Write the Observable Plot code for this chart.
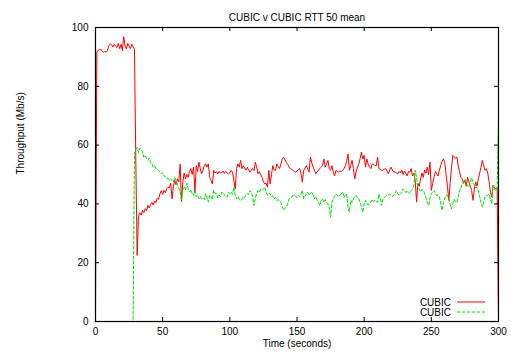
<!DOCTYPE html>
<html><head><meta charset="utf-8">
<script src="https://cdn.jsdelivr.net/npm/d3@7"></script>
<script src="https://cdn.jsdelivr.net/npm/@observablehq/plot@0.6"></script>
<style>
html,body{margin:0;padding:0;background:#fff;}
#chart svg{display:block;}
</style>
</head><body><div id="chart"></div>
<script>
const chartTitle = "CUBIC v CUBIC RTT 50 mean";
const xLabel = "Time (seconds)";
const yLabel = "Throughput (Mb/s)";
const seriesNames = ["CUBIC", "CUBIC"];
const xTicks = [0, 50, 100, 150, 200, 250, 300];
const yTicks = [0, 20, 40, 60, 80, 100];

// throughput samples, one per second, t = 0 .. 300
const cubic1 = [
  0, 91.8, 92.2, 92.5, 92.6, 91.9, 91.6, 91.8, 91.7, 92.3,
  93.9, 94.4, 94.1, 93.4, 94.3, 93.6, 93.2, 94.6, 92.8, 94.3,
  92.1, 96.9, 93.8, 92.7, 94.6, 93.7, 92.8, 94.3, 93.5, 92.6,
  55, 22.5, 35.7, 37, 36.2, 37.8, 37, 38.4, 37.6, 39.5,
  38.6, 39.8, 40.5, 39.6, 41, 40.4, 42, 41.6, 43.5, 44.5,
  43.2, 44.6, 43.8, 45.2, 45.7, 45.5, 47, 41.7, 46, 48,
  46.5, 48.5, 47.5, 53.5, 40.8, 47.5, 50.5, 48.5, 50, 49,
  51, 52, 50, 52.5, 44, 53, 51, 54.2, 52, 50.2,
  51.5, 53, 53.6, 52.5, 53.6, 49, 48, 46.8, 51.4, 50.5,
  51, 50.2, 51, 50.5, 50.6, 51.2, 50.4, 51, 50.5, 50.2,
  50.5, 51.4, 50.8, 48, 45.1, 52, 53.6, 52.5, 54.8, 52,
  53, 52.2, 51.5, 52.5, 51.5, 50.8, 51.5, 52, 51.3, 54.2,
  52.5, 50.2, 51, 50, 49, 47.5, 46.8, 47, 45.7, 51.4,
  46.8, 50, 53, 51.5, 51.4, 53.6, 52.8, 52, 53.5, 55.3,
  55.9, 55, 54.2, 53.5, 52.5, 52, 51.8, 51.4, 51, 50.8,
  51.2, 51.6, 52, 50.2, 47.4, 51.4, 52.2, 53, 51.8, 50.8,
  55.9, 54, 52.5, 51.5, 50.2, 51, 51.4, 52, 52.5, 53,
  55.3, 52.5, 53.5, 54.8, 52, 51.4, 53, 50.8, 49.5, 51.4,
  51, 50.8, 51.2, 51, 51.4, 52, 53, 54.5, 57, 51.4,
  53, 54.8, 52, 48.5, 51, 52.5, 53.5, 55.5, 57.6, 55.3,
  56.5, 52.5, 55.3, 53.5, 52.5, 52, 53.6, 53.5, 53, 53,
  55.9, 52, 51.8, 51.5, 51.4, 51.8, 52, 51.2, 50.2, 51.5,
  52.5, 51.5, 50.8, 51, 50.5, 50.2, 51, 50.5, 51.5, 50,
  51.2, 50.4, 49.5, 51, 50.8, 52, 49.5, 50.5, 48, 40.6,
  47, 46, 48.5, 50.5, 49, 51.5, 50.5, 52.5, 50, 54.2,
  44.6, 47, 49, 51, 50.2, 49.5, 51.5, 53, 54.5, 55.3,
  54, 50, 46, 41.2, 47, 52, 56.5, 56, 55.5, 55.9,
  53, 51, 49, 48.5, 47, 48, 46, 49, 47.5, 46,
  44.6, 41.2, 45, 47.5, 46, 48.5, 50.5, 52.5, 54.8, 53,
  51.4, 52, 50.5, 47.5, 44, 42.3, 46.3, 45.5, 45.1, 45.5,
  0
];
const cubic2 = [
  0, 0, 0, 0, 0, 0, 0, 0, 0, 0,
  0, 0, 0, 0, 0, 0, 0, 0, 0, 0,
  0, 0, 0, 0, 0, 0, 0, 0, 0, 57,
  58.5, 59.2, 57.5, 59, 58.2, 57.8, 55.9, 56.5, 55.5, 54.8,
  55.5, 54, 53.8, 52.5, 53, 52, 51.8, 51.4, 50.8, 50.2,
  50.6, 49.5, 49.2, 48.5, 48.8, 48, 48.4, 48, 47.5, 49,
  48, 46.5, 45.5, 44, 41.2, 44.5, 45.7, 44.8, 47, 45,
  44, 44.8, 43.5, 42.9, 44.6, 42.5, 43, 41.7, 42.5, 41.7,
  42, 41.5, 43.5, 42.2, 40.6, 43, 42.5, 41.5, 44.6, 43.5,
  43.5, 42, 43, 42.5, 44, 43.8, 43, 42.5, 42.2, 44,
  43.5, 44, 43.2, 45.7, 43, 41.7, 42.5, 41.5, 41.2, 41.5,
  42.5, 42.2, 43, 43.5, 43.2, 44.5, 44, 42.5, 39.5, 42,
  43.5, 44.6, 44, 45.1, 44.6, 45, 45.7, 44, 42.9, 43.5,
  43.5, 42.5, 42.8, 41.7, 42.2, 41.2, 41.5, 40.8, 40.6, 39,
  37.8, 38.5, 38.9, 40, 41.7, 42, 42.2, 43, 42.9, 42.5,
  42.2, 43, 42.5, 43.5, 44.6, 41.7, 42.5, 43.5, 44, 42.9,
  43.5, 44, 43, 41.7, 42.5, 41.2, 40.5, 39.5, 41, 41.7,
  40.6, 41.5, 40.5, 40, 38.9, 35.5, 40.6, 41.7, 42.5, 43.4,
  43, 42.5, 42.9, 43.5, 44, 42.2, 43, 43.4, 38.5, 37.2,
  41.2, 40.5, 41.7, 42.5, 42.9, 42, 41.7, 40.5, 39, 37.2,
  40, 41.2, 40.5, 39.5, 40.2, 40.6, 41.5, 40.8, 41.2, 40.8,
  40.6, 43.4, 42, 39.5, 41.7, 42.2, 42.5, 42.9, 43, 43.4,
  43, 42.5, 42.9, 43.5, 44.6, 43.5, 42.9, 43.5, 44.2, 45.1,
  44.5, 43.8, 44.5, 44, 43.5, 44.5, 45, 46.5, 51.4, 49,
  45.7, 45, 44.2, 45, 44.6, 43.5, 42, 40.5, 39.5, 42,
  43.5, 44, 44.6, 43.5, 42.8, 43, 42.3, 40, 37.8, 40.5,
  42, 43, 42.9, 41.5, 40, 38.3, 40, 41.5, 40.5, 40.6,
  42.5, 44.5, 45.5, 46.8, 47.5, 48.5, 47, 46, 45.7, 47.5,
  49, 47, 46.5, 45.5, 45.7, 44.5, 42.5, 40.5, 38.9, 41,
  42.3, 42.8, 43, 43.4, 41.5, 40, 46.3, 45, 44.5, 45.2,
  69
];
const seconds = cubic1.map((_, i) => i);

// styling (kept separate from data)
const colors = ["#ff0000", "#00e000"];
const W = 511, H = 354;
const mL = 95, mR = 13, mT = 27, mB = 33;
const innerW = W - mL - mR, innerH = H - mT - mB;
const font = "'Liberation Sans', Arial, Helvetica, sans-serif";

const rows1 = seconds.map((t, i) => ({t, v: cubic1[i]}));
const rows2 = seconds.map((t, i) => ({t, v: cubic2[i]}));

const plot = Plot.plot({
  width: W, height: H,
  marginLeft: mL, marginRight: mR, marginTop: mT, marginBottom: mB,
  style: {fontFamily: font, fontSize: "10px", color: "#000", background: "#fff"},
  x: {domain: [0, 300]},
  y: {domain: [0, 100]},
  marks: [
    Plot.line(rows1, {x: "t", y: "v", stroke: colors[0], strokeWidth: 1}),
    Plot.line(rows2, {x: "t", y: "v", stroke: colors[1], strokeWidth: 1, strokeDasharray: "3,2"}),
    Plot.tickY(yTicks, {y: d => d, insetRight: innerW - 4, stroke: "#000"}),
    Plot.tickY(yTicks, {y: d => d, insetLeft: innerW - 4, stroke: "#000"}),
    Plot.tickX(xTicks, {x: d => d, insetTop: innerH - 4, stroke: "#000"}),
    Plot.tickX(xTicks, {x: d => d, insetBottom: innerH - 4, stroke: "#000"}),
    Plot.frame({stroke: "#000", strokeWidth: 1.2}),
    Plot.axisX({ticks: xTicks, tickSize: 0, tickPadding: 6, label: null}),
    Plot.axisY({ticks: yTicks, tickSize: 0, tickPadding: 7, label: null}),
    Plot.text([chartTitle], {frameAnchor: "top", dy: -14, fill: "#000"}),
    Plot.text([xLabel], {frameAnchor: "bottom", dy: 25, fill: "#000"}),
    Plot.text([yLabel], {frameAnchor: "left", dx: -75, rotate: -90, fill: "#000"})
  ]
});

// legend (gnuplot-style key, bottom right inside the plot)
const svg = d3.select(plot);
const right = W - mR, bottom = H - mB;
const key = svg.append("g").attr("font-family", font).attr("font-size", 10);
seriesNames.forEach((name, i) => {
  const yy = bottom - 19 + i * 10;
  key.append("text").attr("x", right - 47).attr("y", yy).attr("dy", "0.35em")
    .attr("text-anchor", "end").attr("fill", "#000").text(name);
  key.append("line").attr("x1", right - 41).attr("x2", right - 13)
    .attr("y1", yy).attr("y2", yy).attr("stroke", colors[i]).attr("stroke-width", 1)
    .attr("stroke-dasharray", i === 1 ? "3,2" : null);
});

document.getElementById("chart").appendChild(plot);
</script>
</body></html>
